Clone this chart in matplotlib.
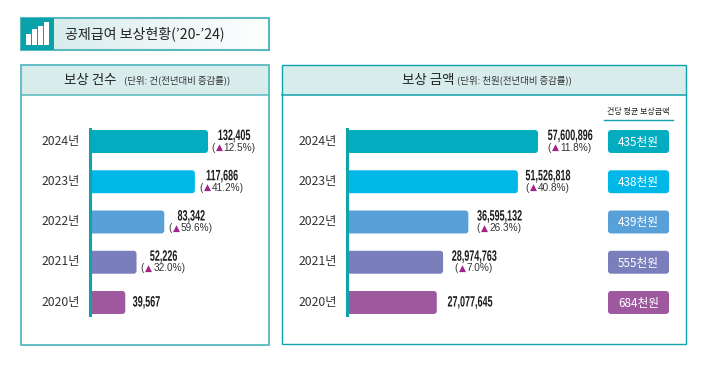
import matplotlib
matplotlib.use("Agg")
import matplotlib.pyplot as plt
import numpy as np
from matplotlib.patches import FancyBboxPatch, Rectangle
from matplotlib.patheffects import AbstractPathEffect
from matplotlib.transforms import Affine2D, blended_transform_factory

KR = ["Noto Sans CJK KR", "DejaVu Sans"]
plt.rcParams["font.family"] = KR

# Datos del grafico
years = ["2024년", "2023년", "2022년", "2021년", "2020년"]
cases = [132405, 117686, 83342, 52226, 39567]
cases_pct = ["12.5%", "41.2%", "59.6%", "32.0%", None]
amounts = [57600896, 51526818, 36595132, 28974763, 27077645]
amounts_pct = ["11.8%", "40.8%", "26.3%", "7.0%", None]
avg_labels = ["435천원", "438천원", "439천원", "555천원", "684천원"]
bar_colors = ["#03adbf", "#00b8e8", "#58a0d8", "#7a7fbc", "#9e589e"]

TEAL = "#0fa3ab"
TEAL_LIGHT = "#58b9bf"
HEADER = "#d9ecec"
W, H = 710, 373
ROW = 40.25


# No hay fuente condensada instalada: se estrecha el texto al dibujarlo
class Squeeze(AbstractPathEffect):
    def __init__(self, factor):
        super().__init__()
        self.factor = factor

    def draw_path(self, renderer, gc, tpath, affine, rgbFace=None):
        box = tpath.transformed(affine).get_extents()
        cx = (box.x0 + box.x1) / 2
        narrow = affine + Affine2D().translate(-cx, 0).scale(self.factor, 1).translate(cx, 0)
        renderer.draw_path(gc, tpath, narrow, rgbFace)


fig = plt.figure(figsize=(W / 100, H / 100), dpi=100)

# Capa de fondo en coordenadas de pixel
bg = fig.add_axes([0, 0, 1, 1])
bg.set_xlim(0, W)
bg.set_ylim(H, 0)
bg.axis("off")


def panel(x0, x1, y0, y1, edge, lw):
    bg.add_patch(Rectangle((x0, y0), x1 - x0, 30, fc=HEADER, ec="none"))
    bg.add_patch(Rectangle((x0, y0), x1 - x0, y1 - y0, fc="none", ec=edge, lw=lw))
    bg.plot([x0, x1], [y0 + 30, y0 + 30], color=edge, lw=1.1)


# Titulo con degradado
grad = np.linspace(0, 1, 200).reshape(1, -1)
cmap = matplotlib.colors.LinearSegmentedColormap.from_list("t", ["#d9ecec", "#ffffff"])
bg.imshow(grad, extent=(54, 269, 50, 18), cmap=cmap, aspect="auto", zorder=0)
bg.set_xlim(0, W)
bg.set_ylim(H, 0)
bg.add_patch(Rectangle((21, 18), 248, 32, fc="none", ec=TEAL_LIGHT, lw=1.5))
bg.add_patch(Rectangle((21, 18), 33, 32, fc="#0aa2aa", ec="none"))
for bx, top in zip([26, 32, 38, 44], [34, 29, 26, 22]):
    bg.add_patch(Rectangle((bx, top), 5, 45 - top, fc="white", ec="none"))
bg.text(65, 33.5, "공제급여 보상현황(’20-’24)", fontsize=10.1, fontweight="medium",
        color="#222222", va="center")

panel(21, 269, 65, 345, TEAL_LIGHT, 1.3)
panel(282, 686, 65, 344, TEAL, 1.0)

# Encabezados de los paneles
bg.text(64, 80, "보상 건수", fontsize=9.7, color="#222222", va="center", fontweight="medium")
bg.text(124, 80.5, "(단위: 건(전년대비 증감률))", fontsize=6.8, color="#333333", va="center")
bg.text(402, 80, "보상 금액", fontsize=9.7, color="#222222", va="center", fontweight="medium")
bg.text(457, 80.5, "(단위: 천원(전년대비 증감률))", fontsize=6.8, color="#333333", va="center")
bg.text(638.5, 111.5, "건당 평균 보상금액", fontsize=5.8, color="#222222", va="center", ha="center")
bg.plot([604, 673], [120, 120], color=TEAL, lw=1)


def pct_text(ax, cx, y, s):
    rend = fig.canvas.get_renderer()
    kw = dict(va="center", fontsize=7.2, family=["Liberation Sans"], clip_on=False)
    parts = [("(", "#333333"), ("▲", "#a3238e"), (s + ")", "#333333")]
    texts = []
    for t, c in parts:
        k = dict(kw)
        if t == "▲":
            k["family"] = ["DejaVu Sans"]
            k["fontsize"] = 6.6
        texts.append(ax.text(0, y, t, color=c, ha="left", **k))
    # Un pixel de aire entre los trozos
    widths = [t.get_window_extent(rend).width + 1 for t in texts]
    x0 = ax.transData.transform((cx, y))[0] - sum(widths) / 2
    for t, w in zip(texts, widths):
        t.set_x(ax.transData.inverted().transform((x0, 0))[0])
        x0 += w


def bars(x_px, w_px, values, pct, px_per_unit, offs):
    top = 141.5 - ROW / 2
    ax = fig.add_axes([x_px / W, 1 - (top + 5 * ROW) / H, w_px / W, 5 * ROW / H])
    ax.patch.set_alpha(0)
    ax.set_xlim(0, w_px / px_per_unit)
    ax.set_ylim(4.5, -0.5)
    unit_x = 1 / px_per_unit
    unit_y = 1 / ROW
    r = 3 * unit_x
    for i, v in enumerate(values):
        # Empieza antes del cero para que solo se redondee el lado derecho
        ax.add_patch(FancyBboxPatch((-2 * r, i - 0.285), v + 2 * r, 0.57,
                                    boxstyle="round,pad=0,rounding_size=%f" % r,
                                    mutation_aspect=unit_y / unit_x,
                                    fc=bar_colors[i], ec="none"))
        cx = v + offs[i] * unit_x
        y = i if pct[i] is None else i - 5.5 * unit_y
        ax.text(cx, y, format(v, ","), ha="center", va="center", fontsize=10.8,
                fontweight="bold", family=["Liberation Sans"], color="#1c1c1c",
                clip_on=False, path_effects=[Squeeze(0.6)])
        if pct[i] is not None:
            # Los tres trozos del porcentaje: parentesis, triangulo morado, numero
            pct_text(ax, cx, i + 6 * unit_y, pct[i])
    ax.set_xticks([])
    # Los años van un poco por encima del centro de la barra
    ax.set_yticks(np.arange(5) - 1.8 * unit_y)
    ax.set_yticklabels(years, fontsize=8.8, color="#333333")
    ax.tick_params(axis="y", length=0, pad=7)
    for s in ["top", "right", "bottom"]:
        ax.spines[s].set_visible(False)
    ax.spines["left"].set_color(TEAL)
    ax.spines["left"].set_linewidth(2.2)
    ax.spines["left"].set_bounds(-0.31, 4.31)
    return ax


ax1 = bars(90, 170, cases, cases_pct, 118 / cases[0], [26, 27, 27, 27, 21])
ax2 = bars(347, 250, amounts, amounts_pct, 191 / amounts[0], [32, 30, 31, 31, 33])

# Etiquetas de la derecha (promedio por caso)
trans = blended_transform_factory(bg.transData, ax2.transData)
for i, lab in enumerate(avg_labels):
    fig.add_artist(FancyBboxPatch((608, i - 0.285), 61, 0.57,
                                  boxstyle="round,pad=0,rounding_size=3",
                                  mutation_aspect=1 / ROW,
                                  fc=bar_colors[i], ec="none", transform=trans))
    fig.text(638.5, i + 0.02, lab, color="white", fontsize=8.4, ha="center", va="center",
             transform=trans)

fig.savefig("out.png", dpi=100)
